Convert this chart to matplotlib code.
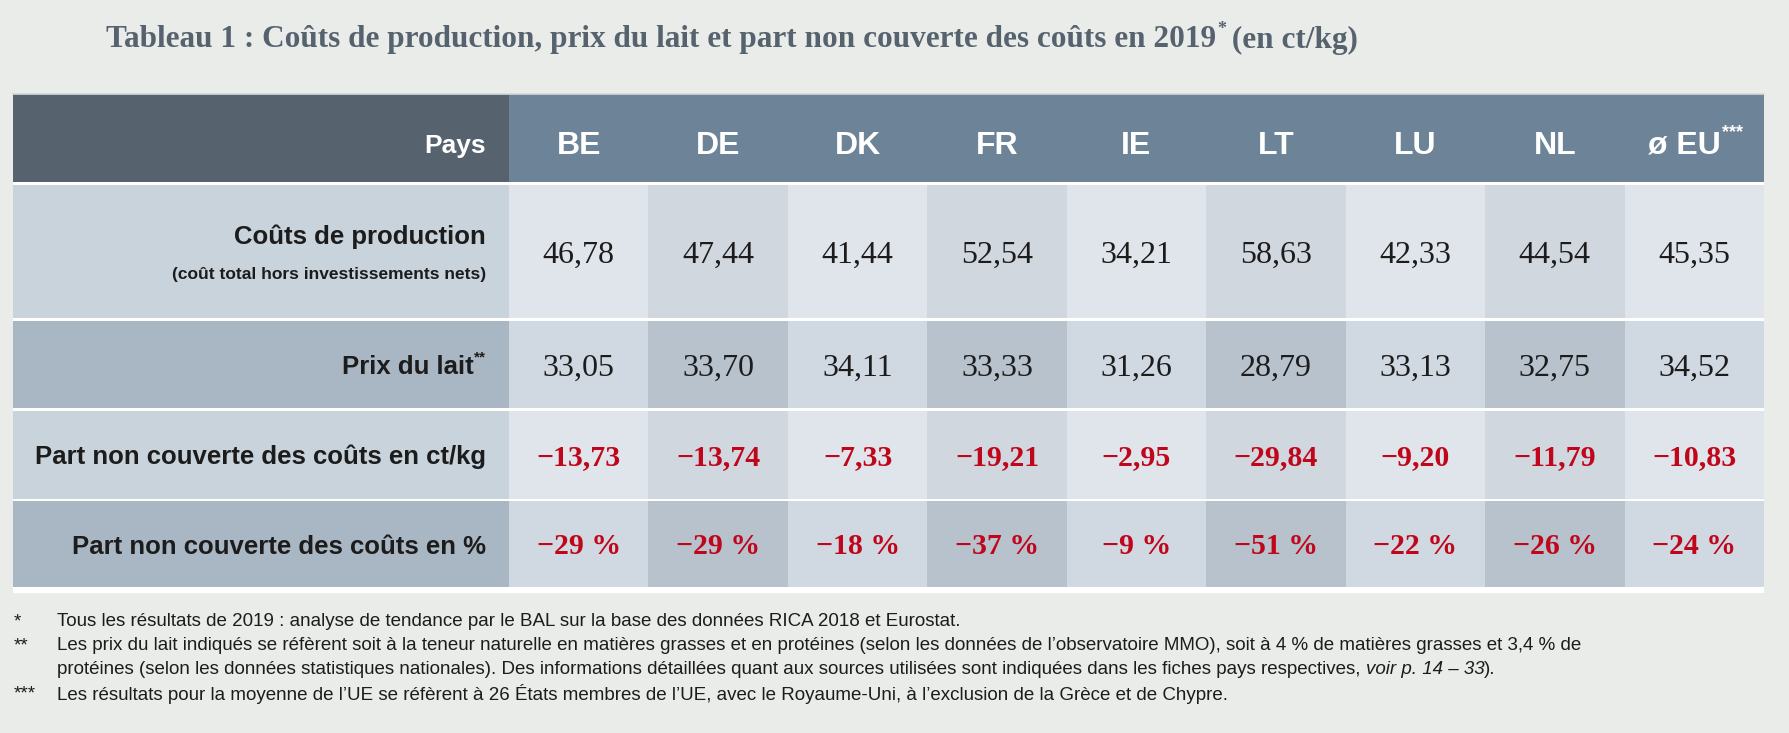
import matplotlib
matplotlib.use("Agg")
import matplotlib.pyplot as plt
from matplotlib.patches import Rectangle
from matplotlib import font_manager

# --- data ---
countries = ["BE", "DE", "DK", "FR", "IE", "LT", "LU", "NL", "ø EU"]
couts = ["46,78", "47,44", "41,44", "52,54", "34,21", "58,63", "42,33", "44,54", "45,35"]
prix = ["33,05", "33,70", "34,11", "33,33", "31,26", "28,79", "33,13", "32,75", "34,52"]
part_ct = ["−13,73", "−13,74", "−7,33", "−19,21", "−2,95", "−29,84", "−9,20", "−11,79", "−10,83"]
part_pct = ["−29 %", "−29 %", "−18 %", "−37 %", "−9 %", "−51 %", "−22 %", "−26 %", "−24 %"]

title_a = "Tableau 1 : Coûts de production, prix du lait et part non couverte des coûts en 2019"
title_b = " (en ct/kg)"

footnotes = [
    ("*", "Tous les résultats de 2019 : analyse de tendance par le BAL sur la base des données RICA 2018 et Eurostat."),
    ("**", "Les prix du lait indiqués se réfèrent soit à la teneur naturelle en matières grasses et en protéines (selon les données de l’observatoire MMO), soit à 4 % de matières grasses et 3,4 % de"),
    ("", "protéines (selon les données statistiques nationales). Des informations détaillées quant aux sources utilisées sont indiquées dans les fiches pays respectives, voir p. 14 – 33)."),
    ("***", "Les résultats pour la moyenne de l’UE se réfèrent à 26 États membres de l’UE, avec le Royaume-Uni, à l’exclusion de la Grèce et de Chypre."),
]

# fonts
installed = {f.name for f in font_manager.fontManager.ttflist}
narrow = "Liberation Sans Narrow" if "Liberation Sans Narrow" in installed else "Liberation Sans"
serif = "Liberation Serif"
INK = "#1c1c1c"

BG = "#eaece9"
W, H = 1790, 733
fig = plt.figure(figsize=(W / 100, H / 100), dpi=100, facecolor=BG)
ax = fig.add_axes([0, 0, 1, 1])
ax.set_xlim(0, W)
ax.set_ylim(H, 0)
ax.axis("off")
ax.set_facecolor(BG)

# table geometry (pixels)
x0, x_lab, x1 = 13, 509, 1764
colw = (x1 - x_lab) / len(countries)
rows_y = [(94, 182), (185, 318), (321, 408), (411, 499), (501, 587)]

# white frame under the table
ax.add_patch(Rectangle((x0, 182), x1 - x0, 593 - 182, color="white", lw=0))

# header
ax.add_patch(Rectangle((x0, 94), x_lab - x0, 88, color="#56636f", lw=0))
ax.add_patch(Rectangle((x_lab, 94), x1 - x_lab, 88, color="#6d8397", lw=0))
ax.plot([x0, x1], [94, 94], color="#d4d8da", lw=1.2)

fills = {
    "A": ("#c8d3dc", "#e0e5ec", "#d0d7df"),
    "B": ("#a9b6c3", "#d0d8e1", "#b7c2cd"),
}
kinds = ["A", "B", "A", "B"]
for (ya, yb), k in zip(rows_y[1:], kinds):
    lab, light, dark = fills[k]
    ax.add_patch(Rectangle((x0, ya), x_lab - x0, yb - ya, color=lab, lw=0))
    for i in range(len(countries)):
        ax.add_patch(Rectangle((x_lab + i * colw, ya), colw, yb - ya,
                               color=light if i % 2 == 0 else dark, lw=0))

fig.canvas.draw()
renderer = fig.canvas.get_renderer()


def width_px(t):
    fig.canvas.draw()
    return t.get_window_extent(renderer).width


# header text
hy = 146
ax.text(486, hy, "Pays", ha="right", va="center", color="white",
        fontsize=19, fontweight="bold", family=narrow)
for i, c in enumerate(countries):
    cx = x_lab + (i + 0.5) * colw
    if c.startswith("ø"):
        t = ax.text(cx - 10, hy, c, ha="center", va="center", color="white",
                    fontsize=23, fontweight="bold", family=narrow)
        wdt = width_px(t)
        ax.text(cx - 10 + wdt / 2 + 1, hy - 13, "***", ha="left", va="center",
                color="white", fontsize=13, fontweight="bold", family=narrow)
    else:
        ax.text(cx, hy, c, ha="center", va="center", color="white",
                fontsize=23, fontweight="bold", family=narrow)

# row labels
lx = 486
ax.text(lx, 237, "Coûts de production", ha="right", va="center", color=INK,
        fontsize=18.5, fontweight="bold", family=narrow)
ax.text(lx, 275, "(coût total hors investissements nets)", ha="right", va="center",
        color=INK, fontsize=12.5, fontweight="bold", family=narrow)
sup = ax.text(lx, 357, "**", ha="right", va="center", color=INK,
              fontsize=11, fontweight="bold", family=narrow)
ax.text(lx - width_px(sup), 367, "Prix du lait", ha="right", va="center",
        color=INK, fontsize=18.5, fontweight="bold", family=narrow)
ax.text(lx, 457, "Part non couverte des coûts en ct/kg", ha="right", va="center",
        color=INK, fontsize=18.5, fontweight="bold", family=narrow)
ax.text(lx, 547, "Part non couverte des coûts en %", ha="right", va="center",
        color=INK, fontsize=18.5, fontweight="bold", family=narrow)

# values
RED = "#c0061b"
row_vals = [(couts, 255, INK, "normal", 23), (prix, 368, INK, "normal", 23),
            (part_ct, 458, RED, "bold", 21.5), (part_pct, 547, RED, "bold", 21.5)]
for vals, yy, col, wt, fs in row_vals:
    for i, v in enumerate(vals):
        cx = x_lab + (i + 0.5) * colw
        ax.text(cx, yy, v, ha="center", va="center", color=col,
                fontsize=fs, fontweight=wt, family=serif)

# title
tx = 106
tt = ax.text(tx, 40, title_a, ha="left", va="center", color="#56636f",
             fontsize=22.5, fontweight="bold", family=serif)
tw = width_px(tt)
ax.text(tx + tw + 1, 30, "*", ha="left", va="center", color="#56636f",
        fontsize=13, fontweight="bold", family=serif)
ax.text(tx + tw + 8, 40, title_b, ha="left", va="center", color="#56636f",
        fontsize=22.5, fontweight="bold", family=serif)

# footnotes
fs_fn = 13.5
fy = [622, 646, 670, 694]
for (mark, txt), yy in zip(footnotes, fy):
    if mark:
        ax.text(14, yy, mark, ha="left", va="center", color=INK,
                fontsize=fs_fn, family=narrow)
    if "voir p." in txt:
        pre, post = txt.split("voir p. 14 – 33")
        t1 = ax.text(57, yy, pre, ha="left", va="center", color=INK,
                     fontsize=fs_fn, family=narrow)
        w1 = width_px(t1)
        t2 = ax.text(57 + w1, yy, "voir p. 14 – 33", ha="left", va="center",
                     color=INK, fontsize=fs_fn, style="italic", family=narrow)
        w2 = width_px(t2)
        ax.text(57 + w1 + w2, yy, post, ha="left", va="center", color=INK,
                fontsize=fs_fn, family=narrow)
    else:
        ax.text(57, yy, txt, ha="left", va="center", color=INK,
                fontsize=fs_fn, family=narrow)

fig.savefig("out.png", dpi=100, facecolor=BG)
